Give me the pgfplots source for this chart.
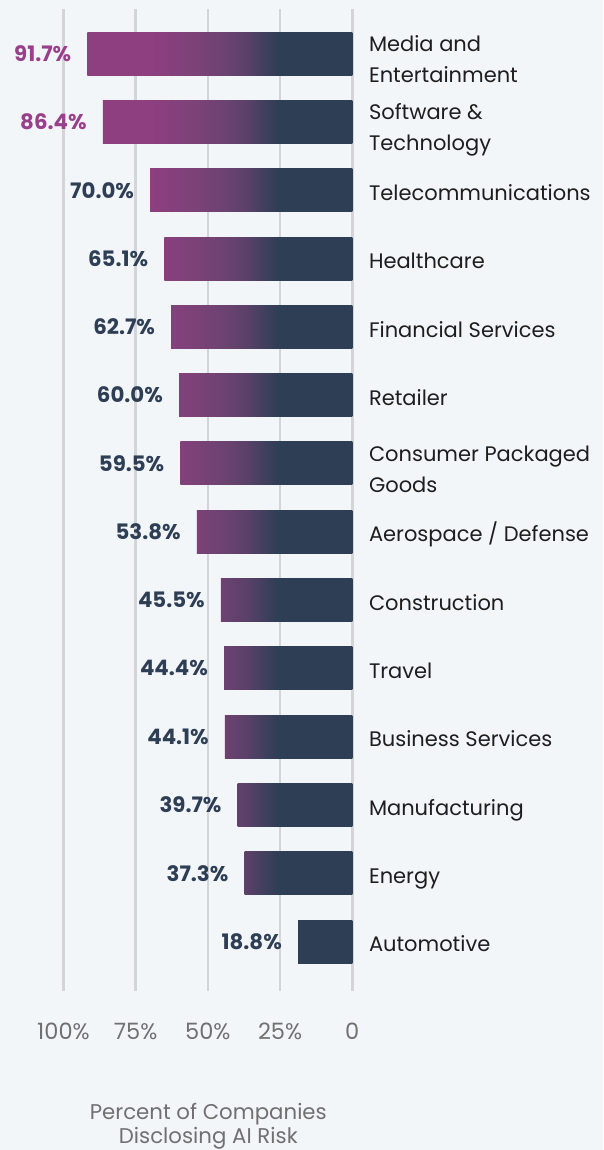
\documentclass[border=0pt]{standalone}
\usepackage{pgfplots}
\pgfplotsset{compat=1.18}
\usepackage{fontspec}
\setmainfont{Poppins}

\definecolor{bg}{HTML}{F3F6F9}
\definecolor{gridc}{HTML}{D3D5D8}
\definecolor{navy}{HTML}{2E3E55}
\definecolor{vpurple}{HTML}{993F8B}
\definecolor{cattext}{HTML}{1E1E1E}
\definecolor{ticktext}{HTML}{707070}
\definecolor{cA}{RGB}{142,63,128}
\definecolor{cB}{RGB}{123,66,119}
\definecolor{cC}{RGB}{110,66,114}
\definecolor{cD}{RGB}{92,65,106}
\definecolor{cE}{RGB}{46,62,85}

% colour channel of the fixed (absolute) gradient at position #1 (percent)
\newcommand\gradchan[6]{%
  \pgfmathparse{#6+(#5-#6)*min(max((#1-26)/11,0),1)+(#4-#5)*min(max((#1-37)/8.5,0),1)+(#3-#4)*min(max((#1-45.5)/8.5,0),1)+(#2-#3)*min(max((#1-54)/16,0),1)}%
}
% shading for a bar of length #2 (percent), named #1
\newcommand\makebarshading[2]{%
  \gradchan{#2}{142}{123}{110}{92}{46}\pgfmathsetmacro\myR{\pgfmathresult/255}%
  \gradchan{#2}{63}{66}{66}{65}{62}\pgfmathsetmacro\myG{\pgfmathresult/255}%
  \gradchan{#2}{128}{119}{114}{106}{85}\pgfmathsetmacro\myB{\pgfmathresult/255}%
  \definecolor{lc#1}{rgb}{\myR,\myG,\myB}%
  \pgfmathsetmacro\pA{75-50*70/#2}%
  \pgfmathsetmacro\pB{75-50*54/#2}%
  \pgfmathsetmacro\pC{75-50*45.5/#2}%
  \pgfmathsetmacro\pD{75-50*37/#2}%
  \pgfmathsetmacro\pE{75-50*26/#2}%
  \edef\tmpshade{\noexpand\pgfdeclarehorizontalshading{#1}{100bp}{color(0bp)=(lc#1); color(25bp)=(lc#1)\ifdim#2pt>70pt; color(\pA bp)=(cA)\fi\ifdim#2pt>54pt; color(\pB bp)=(cB)\fi\ifdim#2pt>45.5pt; color(\pC bp)=(cC)\fi\ifdim#2pt>37pt; color(\pD bp)=(cD)\fi\ifdim#2pt>26pt; color(\pE bp)=(cE)\fi; color(100bp)=(cE)}}%
  \tmpshade
}
\makebarshading{shA}{91.7}
\makebarshading{shB}{86.4}
\makebarshading{shC}{70.0}
\makebarshading{shD}{65.1}
\makebarshading{shE}{62.7}
\makebarshading{shF}{60.0}
\makebarshading{shG}{59.5}
\makebarshading{shH}{53.8}
\makebarshading{shI}{45.5}
\makebarshading{shJ}{44.4}
\makebarshading{shK}{44.1}
\makebarshading{shL}{39.7}
\makebarshading{shM}{37.3}
\makebarshading{shN}{18.8}

\newcommand\catfont{\fontsize{21pt}{31pt}\selectfont}
\newcommand\valfont{\fontsize{21.3pt}{24pt}\selectfont\bfseries}
\newcommand\tickfont{\fontsize{22.5pt}{26pt}\selectfont}
\newcommand\titlefont{\fontsize{21.3pt}{25pt}\selectfont}

\pgfplotsset{
  gbar/.style={xbar, bar width=43pt, bar shift=0pt, draw=none, shade, shading=#1, shading angle=0,
    point meta=x,
    nodes near coords={\pgfmathprintnumber[fixed,fixed zerofill,precision=1]{\pgfplotspointmeta}\%},
    nodes near coords style={anchor=east, xshift=-16pt, inner sep=0pt, font=\valfont, text=navy}},
}

\begin{document}
\begin{tikzpicture}
\useasboundingbox (0,0) rectangle (603pt,-1150pt);
\fill[bg] (0,0) rectangle (603pt,-1150pt);
\begin{axis}[
  at={(207.9pt,-500pt)}, anchor=center,
  scale only axis, width=288.8pt, height=981.4pt,
  xmin=0, xmax=100, x dir=reverse,
  ymin=-0.72, ymax=13.65,
  axis line style={draw=none},
  xtick={0,25,50,75,100}, xticklabels={0,25\%,50\%,75\%,100\%},
  ytick=\empty,
  major tick length=0pt,
  xmajorgrids, grid style={draw=gridc, line width=2.5pt},
  xticklabel style={font=\tickfont, text=ticktext, anchor=base, yshift=-48.6pt, inner sep=0pt},
  /pgf/number format/assume math mode=true,
  clip=false,
]
\addplot[gbar=shA, nodes near coords style={text=vpurple}] coordinates {(91.7,13)};
\addplot[gbar=shB, nodes near coords style={text=vpurple}] coordinates {(86.4,12)};
\addplot[gbar=shC] coordinates {(70.0,11)};
\addplot[gbar=shD] coordinates {(65.1,10)};
\addplot[gbar=shE] coordinates {(62.7,9)};
\addplot[gbar=shF] coordinates {(60.0,8)};
\addplot[gbar=shG] coordinates {(59.5,7)};
\addplot[gbar=shH] coordinates {(53.8,6)};
\addplot[gbar=shI] coordinates {(45.5,5)};
\addplot[gbar=shJ] coordinates {(44.4,4)};
\addplot[gbar=shK] coordinates {(44.1,3)};
\addplot[gbar=shL] coordinates {(39.7,2)};
\addplot[gbar=shM] coordinates {(37.3,1)};
\addplot[gbar=shN] coordinates {(18.8,0)};

\tikzset{cat/.style={anchor=base west, inner sep=0pt, font=\catfont, text=cattext}}
\node[cat] at ([xshift=16.5pt,yshift=2.3pt]axis cs:0,13) {\vtop{\baselineskip=31pt\hbox{Media and}\hbox{Entertainment}}};
\node[cat] at ([xshift=16.5pt,yshift=2.3pt]axis cs:0,12) {\vtop{\baselineskip=31pt\hbox{Software \&}\hbox{Technology}}};
\node[cat] at ([xshift=16.5pt,yshift=-10.2pt]axis cs:0,11) {Telecommunications};
\node[cat] at ([xshift=16.5pt,yshift=-10.2pt]axis cs:0,10) {Healthcare};
\node[cat] at ([xshift=16.5pt,yshift=-10.2pt]axis cs:0,9) {Financial Services};
\node[cat] at ([xshift=16.5pt,yshift=-10.2pt]axis cs:0,8) {Retailer};
\node[cat] at ([xshift=16.5pt,yshift=2.3pt]axis cs:0,7) {\vtop{\baselineskip=31pt\hbox{Consumer Packaged}\hbox{Goods}}};
\node[cat] at ([xshift=16.5pt,yshift=-10.2pt]axis cs:0,6) {Aerospace / Defense};
\node[cat] at ([xshift=16.5pt,yshift=-10.2pt]axis cs:0,5) {Construction};
\node[cat] at ([xshift=16.5pt,yshift=-10.2pt]axis cs:0,4) {Travel};
\node[cat] at ([xshift=16.5pt,yshift=-10.2pt]axis cs:0,3) {Business Services};
\node[cat] at ([xshift=16.5pt,yshift=-10.2pt]axis cs:0,2) {Manufacturing};
\node[cat] at ([xshift=16.5pt,yshift=-10.2pt]axis cs:0,1) {Energy};
\node[cat] at ([xshift=16.5pt,yshift=-10.2pt]axis cs:0,0) {Automotive};
\end{axis}
\node[anchor=base, inner sep=0pt, font=\titlefont, text=ticktext] at (208.3pt,-1119.5pt) {Percent of Companies};
\node[anchor=base, inner sep=0pt, font=\titlefont, text=ticktext] at (208.3pt,-1143.3pt) {Disclosing AI Risk};
\end{tikzpicture}
\end{document}
